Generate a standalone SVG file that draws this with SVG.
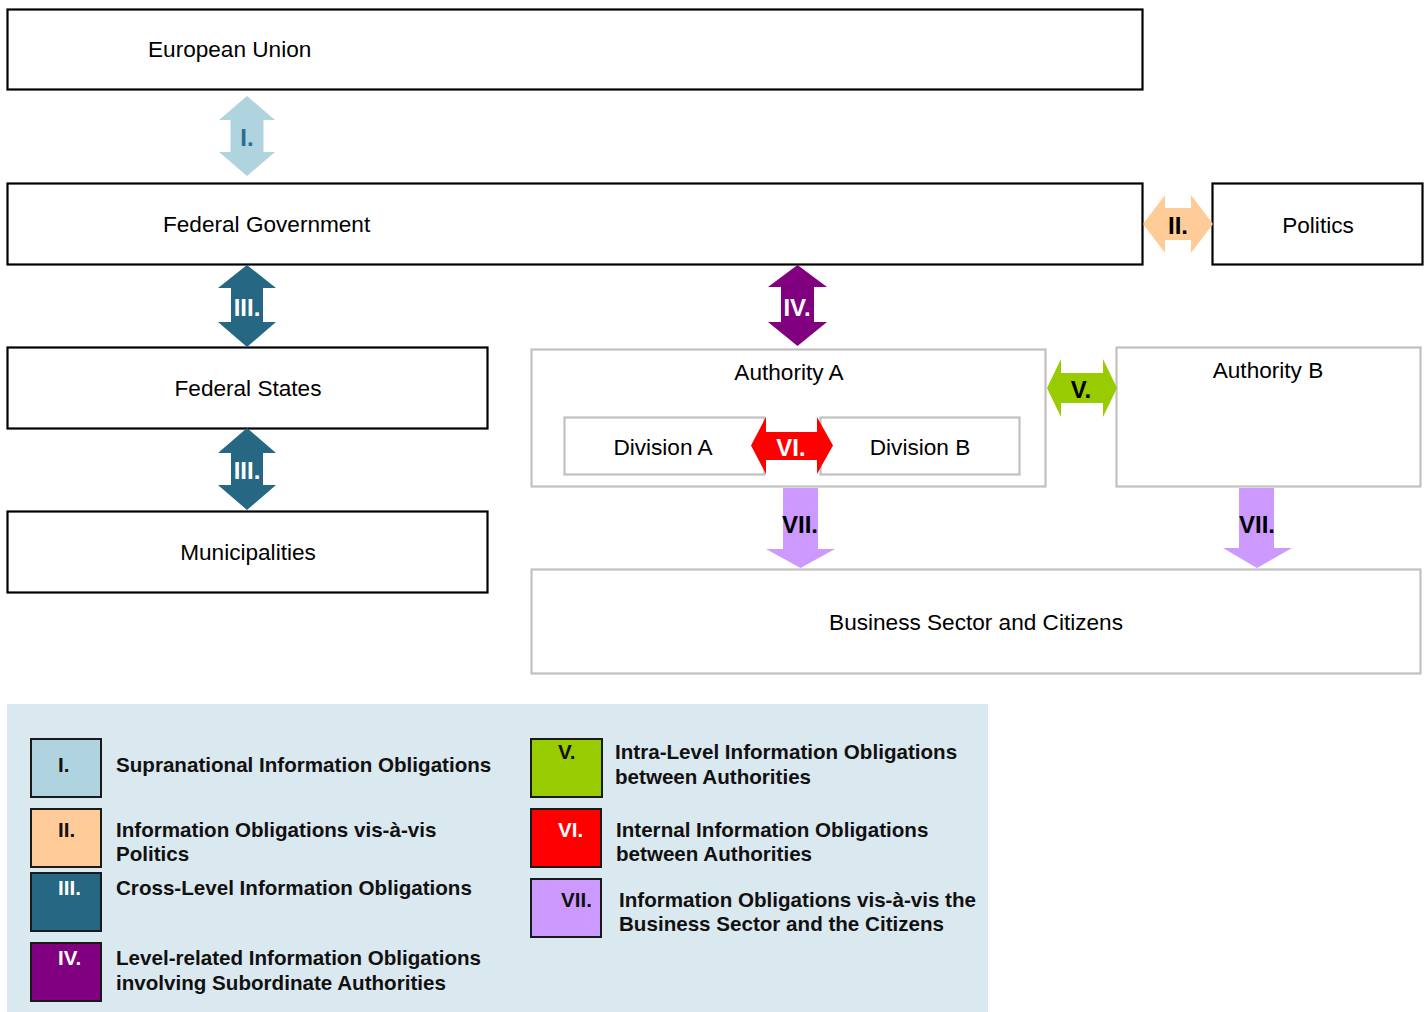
<svg xmlns="http://www.w3.org/2000/svg" width="1427" height="1012" viewBox="0 0 1427 1012">
  <style>
    .box { fill: #ffffff; stroke: #000000; stroke-width: 2.2; }
    .gbox { fill: #ffffff; stroke: #c0c0c0; stroke-width: 2.2; }
    .lbl { font-family: "Liberation Sans", Arial, sans-serif; font-size: 22.6px; fill: #000000; }
    .alb { font-family: "Liberation Sans", Arial, sans-serif; font-size: 24px; font-weight: bold; text-anchor: middle; }
    .leg { font-family: "Liberation Sans", Arial, sans-serif; font-size: 20.6px; font-weight: bold; fill: #111111; }
    .wt { fill: #ffffff; }
    .key { stroke: #1a1a1a; stroke-width: 2; }
    .c1 { fill: #b0d4df; }
    .c2 { fill: #ffcc99; }
    .c3 { fill: #266783; }
    .c4 { fill: #800080; }
    .c5 { fill: #99cc00; }
    .c6 { fill: #ff0000; }
    .c7 { fill: #cc99ff; }
  </style>

  <!-- hierarchy levels -->
  <g id="european-union">
    <rect class="box" x="7.5" y="9.5" width="1135" height="80"/>
    <text class="lbl" x="148" y="57">European Union</text>
  </g>
  <g id="federal-government">
    <rect class="box" x="7.5" y="183.5" width="1135" height="81"/>
    <text class="lbl" x="163" y="232">Federal Government</text>
  </g>
  <g id="politics">
    <rect class="box" x="1212.5" y="183.5" width="210" height="81"/>
    <text class="lbl" x="1318" y="233" text-anchor="middle">Politics</text>
  </g>
  <g id="federal-states">
    <rect class="box" x="7.5" y="347.5" width="480" height="81"/>
    <text class="lbl" x="248" y="396" text-anchor="middle">Federal States</text>
  </g>
  <g id="municipalities">
    <rect class="box" x="7.5" y="511.5" width="480" height="81"/>
    <text class="lbl" x="248" y="560" text-anchor="middle">Municipalities</text>
  </g>
  <g id="authority-a">
    <rect class="gbox" x="531.5" y="349.5" width="514" height="137"/>
    <text class="lbl" x="789" y="380" text-anchor="middle">Authority A</text>
  </g>
  <g id="division-a">
    <rect class="gbox" x="564.5" y="417.5" width="200" height="57"/>
    <text class="lbl" x="663" y="455" text-anchor="middle">Division A</text>
  </g>
  <g id="division-b">
    <rect class="gbox" x="820.5" y="417.5" width="199" height="57"/>
    <text class="lbl" x="920" y="455" text-anchor="middle">Division B</text>
  </g>
  <g id="authority-b">
    <rect class="gbox" x="1116.5" y="347.5" width="304" height="139"/>
    <text class="lbl" x="1268" y="378" text-anchor="middle">Authority B</text>
  </g>
  <g id="business-citizens">
    <rect class="gbox" x="531.5" y="569.5" width="889" height="104"/>
    <text class="lbl" x="976" y="630" text-anchor="middle">Business Sector and Citizens</text>
  </g>

  <!-- information obligation arrows -->
  <g id="connectors">
    <polygon class="c1" points="247,96 275,120 263.5,120 263.5,152 275,152 247,176 219,152 230.5,152 230.5,120 219,120"/>
    <text class="alb" x="247" y="146" fill="#2a6d8c">I.</text>

    <polygon class="c2" points="1143,224 1165,195 1165,208 1191,208 1191,195 1213,224 1191,253 1191,240 1165,240 1165,253"/>
    <text class="alb" x="1178" y="234" fill="#000000">II.</text>

    <polygon class="c3" points="247,265 276,288 263,288 263,322 276,322 247,347 218,322 231,322 231,288 218,288"/>
    <text class="alb" x="247" y="316" fill="#ffffff">III.</text>

    <polygon class="c3" points="247,428 276,453 263,453 263,485 276,485 247,510 218,485 231,485 231,453 218,453"/>
    <text class="alb" x="247" y="479" fill="#ffffff">III.</text>

    <polygon class="c4" points="797.5,265 827,287 814,287 814,322 827,322 797.5,346 768,322 781,322 781,287 768,287"/>
    <text class="alb" x="797" y="316" fill="#ffffff">IV.</text>

    <polygon class="c5" points="1047,388 1061,359 1061,373 1103,373 1103,359 1117,388 1103,417 1103,403 1061,403 1061,417"/>
    <text class="alb" x="1081" y="398" fill="#000000">V.</text>

    <polygon class="c6" points="751,445.5 766,417 766,432 817,432 817,417 833,445.5 817,474 817,460 766,460 766,474"/>
    <text class="alb" x="791" y="456" fill="#ffffff">VI.</text>

    <polygon class="c7" points="783,488 818,488 818,549 835,549 800.5,568 766,549 783,549"/>
    <text class="alb" x="800" y="533" fill="#000000">VII.</text>

    <polygon class="c7" points="1239,488 1274,488 1274,548 1292,548 1257,568 1223,548 1239,548"/>
    <text class="alb" x="1257" y="533" fill="#000000">VII.</text>
  </g>

  <!-- legend -->
  <g id="legend">
    <rect x="7" y="704" width="981" height="308" fill="#dae8ef"/>

    <rect class="key c1" x="31" y="739" width="70" height="58"/>
    <text class="leg" x="58" y="772">I.</text>
    <text class="leg" x="116" y="772">Supranational Information Obligations</text>

    <rect class="key c2" x="31" y="809" width="70" height="58"/>
    <text class="leg" x="58" y="837">II.</text>
    <text class="leg" x="116" y="837">Information Obligations vis-à-vis</text>
    <text class="leg" x="116" y="861">Politics</text>

    <rect class="key c3" x="31" y="873" width="70" height="58"/>
    <text class="leg wt" x="58" y="895">III.</text>
    <text class="leg" x="116" y="895">Cross-Level Information Obligations</text>

    <rect class="key c4" x="31" y="943" width="70" height="58"/>
    <text class="leg wt" x="58" y="965">IV.</text>
    <text class="leg" x="116" y="965">Level-related Information Obligations</text>
    <text class="leg" x="116" y="990">involving Subordinate Authorities</text>

    <rect class="key c5" x="531" y="739" width="71" height="58"/>
    <text class="leg" x="558" y="759">V.</text>
    <text class="leg" x="615" y="759">Intra-Level Information Obligations</text>
    <text class="leg" x="615" y="784">between Authorities</text>

    <rect class="key c6" x="531" y="809" width="70" height="58"/>
    <text class="leg wt" x="558" y="837">VI.</text>
    <text class="leg" x="616" y="837">Internal Information Obligations</text>
    <text class="leg" x="616" y="861">between Authorities</text>

    <rect class="key c7" x="531" y="879" width="70" height="58"/>
    <text class="leg" x="561" y="907">VII.</text>
    <text class="leg" x="619" y="907">Information Obligations vis-à-vis the</text>
    <text class="leg" x="619" y="931">Business Sector and the Citizens</text>
  </g>
</svg>
